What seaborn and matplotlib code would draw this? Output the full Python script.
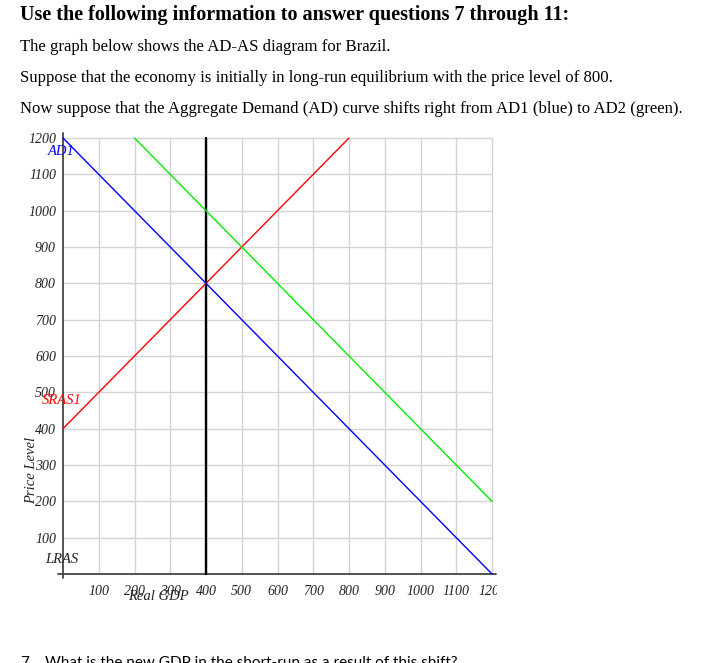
import matplotlib
matplotlib.use("Agg")
import matplotlib.pyplot as plt
import seaborn as sns
from matplotlib.transforms import Bbox, TransformedBbox, IdentityTransform

# ---- data ----
ad1_q = [0, 1200]
ad1_p = [1200, 0]
ad2_q = [200, 1200]
ad2_p = [1200, 200]
sras_q = [0, 800]
sras_p = [400, 1200]
lras_q = [400, 400]
lras_p = [0, 1200]
ticks = [100, 200, 300, 400, 500, 600, 700, 800, 900, 1000, 1100, 1200]

title = "Use the following information to answer questions 7 through 11:"
body = [
    "The graph below shows the AD-AS diagram for Brazil.",
    "Suppose that the economy is initially in long-run equilibrium with the price level of 800.",
    "Now suppose that the Aggregate Demand (AD) curve shifts right from AD1 (blue) to AD2 (green).",
]
q_num = "7."
question = "What is the new GDP in the short-run as a result of this shift?"

sns.set_theme(style="white")
plt.rcParams['font.family'] = ['Liberation Serif', 'DejaVu Serif']

W, H = 713, 663
fig = plt.figure(figsize=(W / 100, H / 100), dpi=100)
fig.patch.set_facecolor("white")

def px(x, y):
    return x / W, 1 - y / H

def fit_text(x, y, s, target_w, weight="normal", size=12, va="center", family=None):
    kw = {}
    if family:
        kw["family"] = family
    t = fig.text(*px(x, y), s, fontsize=size, fontweight=weight, va=va, ha="left", color="black", **kw)
    r = fig.canvas.get_renderer()
    w = t.get_window_extent(r).width
    t.set_fontsize(size * target_w / w)
    return t

fit_text(20, 15, title, 552, weight="bold", size=14)
ref = fit_text(20, 109, body[2], 681 - 20, size=12)
bs = ref.get_fontsize()
fig.text(*px(20, 47), body[0], fontsize=bs, va="center", ha="left", color="black")
fig.text(*px(20, 78), body[1], fontsize=bs, va="center", ha="left", color="black")

qt = fit_text(45, 667, question, 457 - 45, size=12, va="baseline", family=["Lato", "DejaVu Sans"])
fig.text(*px(20, 667), q_num, fontsize=qt.get_fontsize(), va="baseline", ha="left",
         color="black", family=["Lato", "DejaVu Sans"])

# axes: data (0,0) at px (63,574), (1200,1200) at px (492,138)
l, b = px(63, 574)
rr, t = px(492, 138)
ax = fig.add_axes([l, b, rr - l, t - b])
ax.set_xlim(0, 1200)
ax.set_ylim(0, 1200)
for s in ax.spines.values():
    s.set_visible(False)
ax.set_facecolor("none")

grid_c = "#d4d4d4"
for v in ticks:
    ax.axvline(v, color=grid_c, lw=1.0, zorder=0)
    ax.axhline(v, color=grid_c, lw=1.0, zorder=0)

# axis lines
ax.plot([0, 0], [-10, 1215], color="#444444", lw=1.3, clip_on=False, zorder=3)
ax.plot([-14, 1210], [0, 0], color="#444444", lw=1.3, clip_on=False, zorder=3)

sns.lineplot(x=lras_q, y=lras_p, ax=ax, color="black", lw=1.7, sort=False, estimator=None, zorder=4)
sns.lineplot(x=sras_q, y=sras_p, ax=ax, color="#ff0000", lw=1.0, sort=False, estimator=None, zorder=5)
sns.lineplot(x=ad1_q, y=ad1_p, ax=ax, color="#0000ff", lw=1.0, sort=False, estimator=None, zorder=5)
sns.lineplot(x=ad2_q, y=ad2_p, ax=ax, color="#00ee00", lw=1.0, sort=False, estimator=None, zorder=5)
for line in ax.get_lines():
    line.set_clip_on(False)

ax.set_xticks(ticks)
ax.set_yticks(ticks)
ax.set_xticklabels([str(v) for v in ticks])
ax.set_yticklabels([str(v) for v in ticks])
ax.tick_params(axis="both", direction="inout", length=8, width=1.0, color="#444444",
               labelsize=10, labelcolor="#222222", pad=3)
ax.tick_params(axis="x", pad=4)
ax.tick_params(axis="y", pad=1)
for lab in ax.get_xticklabels() + ax.get_yticklabels():
    lab.set_fontstyle("italic")
# clip last x label like the reference crop
fig.canvas.draw()
clip = TransformedBbox(Bbox([[0, 0], [497, H]]), IdentityTransform())
last = ax.get_xticklabels()[-1]
last.set_clip_on(True)
last.set_clip_box(clip)

lab_kw = dict(fontstyle="italic", fontsize=10.5, ha="center", va="center")
ax.text(-5, 1164, "AD1", color="#0000ff", **lab_kw)
ax.text(-3, 478, "SRAS1", color="#ff0000", **lab_kw)
ax.text(-3, 41, "LRAS", color="#222222", **lab_kw)
ax.text(-87, 286, "Price Level", rotation=90, color="#222222", **lab_kw)
ax.text(266, -63, "Real GDP", color="#222222", **lab_kw)

fig.savefig("out.png", dpi=100)
